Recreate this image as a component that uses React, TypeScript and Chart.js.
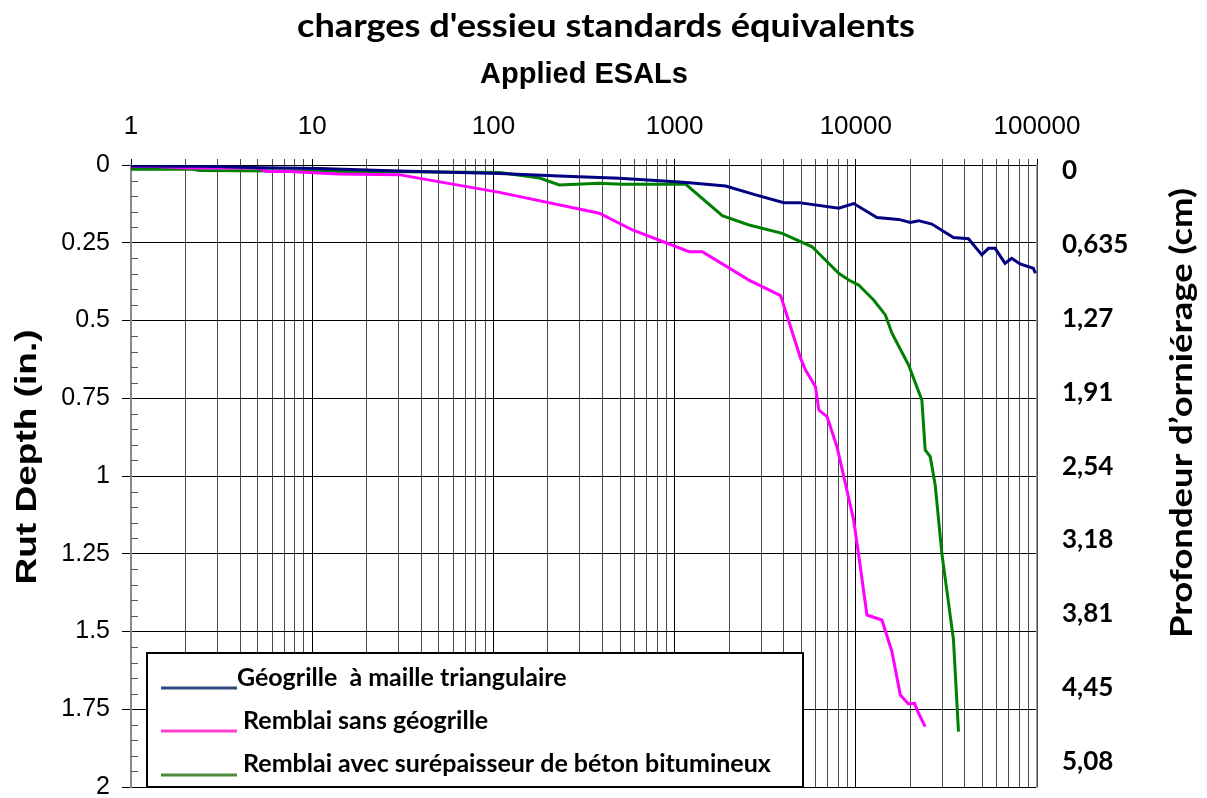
import React, { useEffect, useRef } from 'react';
import { Chart, registerables } from 'chart.js';

Chart.register(...registerables);

// ---------- texts ----------
const TITLE = "charges d'essieu standards équivalents";
const X_TITLE = 'Applied ESALs';
const Y_TITLE = 'Rut Depth (in.)';
const Y2_TITLE = 'Profondeur d’orniérage (cm)';
const seriesNames = [
  'Géogrille  à maille triangulaire',
  ' Remblai sans géogrille',
  ' Remblai avec surépaisseur de béton bitumineux',
];

// ---------- axes ----------
const xDecades = [1, 10, 100, 1000, 10000, 100000];
const yTicks = [0, 0.25, 0.5, 0.75, 1, 1.25, 1.5, 1.75, 2];
const yMinorStep = 0.05;
const cmTicks = [0, 0.635, 1.27, 1.905, 2.54, 3.175, 3.81, 4.445, 5.08];
const cmLabels = ['0', '0,635', '1,27', '1,91', '2,54', '3,18', '3,81', '4,45', '5,08'];
// the cm labels in the source sit on their own, slightly offset scale
const cmAxisMin = -0.05;
const cmAxisMax = 5.3;

// ---------- data (ESALs, rut depth in inches) ----------
const geoX = [1, 2.6, 5.2, 11, 30, 108, 231, 384, 495, 1016, 1202, 1914, 2800, 4010, 4850, 8050, 9730, 13090, 17230, 19990, 22190, 26290, 34600, 41860, 49600, 53960, 58720, 66650, 72500, 80600, 95400, 98000];
const geoY = [0.003, 0.004, 0.009, 0.011, 0.019, 0.027, 0.035, 0.040, 0.043, 0.054, 0.057, 0.0675, 0.096, 0.121, 0.121, 0.139, 0.124, 0.169, 0.175, 0.185, 0.179, 0.190, 0.233, 0.237, 0.289, 0.268, 0.268, 0.316, 0.300, 0.318, 0.332, 0.348];

const sansX = [1, 1.36, 2.1, 5, 5.6, 7.5, 14, 30, 108, 384, 586, 1202, 1423, 2572, 3846, 4960, 5280, 5990, 6250, 6940, 7870, 9730, 10590, 11520, 13940, 15830, 17610, 19550, 21090, 22190, 24150];
const sansY = [0.005, 0.005, 0.010, 0.010, 0.021, 0.021, 0.029, 0.031, 0.088, 0.155, 0.209, 0.279, 0.279, 0.370, 0.420, 0.622, 0.659, 0.713, 0.788, 0.809, 0.906, 1.141, 1.292, 1.447, 1.463, 1.565, 1.704, 1.733, 1.731, 1.763, 1.806];

const avecX = [1, 2.18, 2.41, 11, 30, 108, 180, 231, 384, 516, 1153, 1832, 2576, 3926, 5740, 8050, 9140, 10370, 12540, 14560, 15830, 19550, 23150, 24150, 25750, 27430, 29850, 34600, 36870];
const avecY = [0.014, 0.014, 0.018, 0.020, 0.022, 0.024, 0.042, 0.064, 0.059, 0.062, 0.062, 0.163, 0.193, 0.220, 0.263, 0.348, 0.370, 0.386, 0.434, 0.482, 0.541, 0.643, 0.756, 0.916, 0.938, 1.029, 1.249, 1.527, 1.822];

const lineColors = ['#000080', '#FF00FF', '#008000'];
const legendColors = ['#2B4A80', '#FF3FD0', '#4F8A3C'];

const ARIAL = "'Liberation Sans', Arial, sans-serif";
const CALIBRI = "Lato, 'Open Sans', sans-serif";

const zip = (xs: number[], ys: number[]) => xs.map((x, i) => ({ x, y: ys[i] }));
const isDecade = (v: number) => Math.abs(Math.log10(v) - Math.round(Math.log10(v))) < 1e-9;

function drawStretched(ctx: CanvasRenderingContext2D, text: string, x: number, y: number, font: string, rot: number, targetW: number) {
  ctx.save();
  ctx.font = font;
  ctx.fillStyle = '#000';
  ctx.textAlign = 'center';
  ctx.textBaseline = 'middle';
  ctx.translate(x, y);
  ctx.rotate(rot);
  const w = ctx.measureText(text).width;
  const s = targetW && w ? targetW / w : 1;
  ctx.scale(s, 1);
  ctx.fillText(text, 0, 0);
  ctx.restore();
}

const decorPlugin = {
  id: 'decor',
  afterDraw(chart: any) {
    const ctx: CanvasRenderingContext2D = chart.ctx;
    const ys = chart.scales.y;
    const area = chart.chartArea;
    // minor ticks on the left axis (inside)
    ctx.save();
    ctx.strokeStyle = '#555';
    ctx.lineWidth = 1;
    const n = Math.round((yTicks[yTicks.length - 1] - yTicks[0]) / yMinorStep);
    for (let i = 0; i <= n; i++) {
      const v = yTicks[0] + i * yMinorStep;
      if (Math.abs(v / 0.25 - Math.round(v / 0.25)) < 1e-6) continue;
      const py = Math.round(ys.getPixelForValue(v)) + 0.5;
      ctx.beginPath();
      ctx.moveTo(area.left, py);
      ctx.lineTo(area.left + 7, py);
      ctx.stroke();
    }
    ctx.restore();

    // titles
    drawStretched(ctx, TITLE, 606, 27, `bold 32px ${CALIBRI}`, 0, 618);
    drawStretched(ctx, Y_TITLE, 28, 457, `bold 30px ${ARIAL}`, -Math.PI / 2, 255);
    drawStretched(ctx, Y2_TITLE, 1182, 413, `bold 30px ${CALIBRI}`, -Math.PI / 2, 450);

    // legend box
    const lx = 147, ly = 653, lw = 656, lh = 134;
    ctx.save();
    ctx.fillStyle = '#fff';
    ctx.fillRect(lx, ly, lw, lh);
    ctx.strokeStyle = '#000';
    ctx.lineWidth = 2;
    ctx.strokeRect(lx, ly, lw, lh);
    const sampleY = [688, 731, 775];
    const textBase = [686, 729, 772];
    ctx.font = `bold 25px ${CALIBRI}`;
    ctx.textAlign = 'left';
    ctx.textBaseline = 'alphabetic';
    seriesNames.forEach((name, i) => {
      ctx.strokeStyle = legendColors[i];
      ctx.lineWidth = 3;
      ctx.beginPath();
      ctx.moveTo(161, sampleY[i]);
      ctx.lineTo(237, sampleY[i]);
      ctx.stroke();
      ctx.fillStyle = '#000';
      ctx.fillText(name, 237, textBase[i]);
    });
    ctx.restore();
  },
};

export default function App() {
  const ref = useRef<HTMLCanvasElement>(null);

  useEffect(() => {
    if (!ref.current) return;
    const xTickValues: number[] = [];
    for (let d = 0; d < xDecades.length - 1; d++) {
      for (let k = 1; k <= 9; k++) xTickValues.push(xDecades[d] * k);
    }
    xTickValues.push(xDecades[xDecades.length - 1]);

    const zeroPad = (s: any) => {
      s.paddingTop = 0;
      s.paddingBottom = 0;
      s.paddingLeft = 0;
      s.paddingRight = 0;
    };

    const chart = new Chart(ref.current, {
      type: 'line',
      data: {
        datasets: [
          { label: seriesNames[0], data: zip(geoX, geoY), borderColor: lineColors[0], backgroundColor: lineColors[0], borderWidth: 3, pointRadius: 0, tension: 0, yAxisID: 'y' },
          { label: seriesNames[1], data: zip(sansX, sansY), borderColor: lineColors[1], backgroundColor: lineColors[1], borderWidth: 3, pointRadius: 0, tension: 0, yAxisID: 'y' },
          { label: seriesNames[2], data: zip(avecX, avecY), borderColor: lineColors[2], backgroundColor: lineColors[2], borderWidth: 3, pointRadius: 0, tension: 0, yAxisID: 'y' },
        ],
      },
      options: {
        responsive: false,
        animation: false,
        devicePixelRatio: 1,
        layout: { padding: { top: 0, bottom: 11, left: 0, right: 0 } },
        plugins: {
          legend: { display: false },
          tooltip: { enabled: false },
          title: { display: false },
        },
        scales: {
          x: {
            type: 'logarithmic',
            position: 'top',
            min: 1,
            max: 100000,
            afterBuildTicks: (s: any) => {
              s.ticks = xTickValues.map((v) => ({ value: v, major: isDecade(v) }));
            },
            afterFit: (s: any) => {
              s.height = 165;
              zeroPad(s);
            },
            ticks: {
              autoSkip: false,
              maxRotation: 0,
              minRotation: 0,
              padding: 17,
              color: '#000',
              font: { family: ARIAL, size: 26 },
              callback: (v: any) => (isDecade(Number(v)) ? String(Math.round(Number(v))) : ''),
            },
            grid: {
              color: (c: any) => (c.tick && isDecade(c.tick.value) ? '#000' : '#4a4a4a'),
              lineWidth: 1,
              tickLength: 6,
              drawTicks: true,
            },
            border: { display: true, color: '#000', width: 1 },
            title: {
              display: true,
              text: X_TITLE,
              color: '#000',
              font: { family: ARIAL, size: 29, weight: 'bold' },
              padding: { top: 58, bottom: 0 },
            },
          },
          y: {
            type: 'linear',
            position: 'left',
            min: 0,
            max: 2,
            reverse: true,
            afterBuildTicks: (s: any) => {
              s.ticks = yTicks.map((v) => ({ value: v }));
            },
            afterFit: (s: any) => {
              s.width = 131;
              zeroPad(s);
            },
            ticks: {
              padding: 12,
              color: '#000',
              font: { family: ARIAL, size: 25 },
              callback: (v: any) => String(v),
            },
            grid: { color: '#000', lineWidth: 1, tickLength: 9, drawTicks: true },
            border: { display: true, color: '#888', width: 2 },
          },
          y2: {
            type: 'linear',
            position: 'right',
            min: cmAxisMin,
            max: cmAxisMax,
            reverse: true,
            afterBuildTicks: (s: any) => {
              s.ticks = cmTicks.map((v) => ({ value: v }));
            },
            afterFit: (s: any) => {
              s.width = 170;
              zeroPad(s);
            },
            ticks: {
              padding: 25,
              color: '#000',
              font: { family: CALIBRI, size: 26, weight: 'bold' },
              callback: (_v: any, i: number) => cmLabels[i],
            },
            grid: { drawOnChartArea: false, drawTicks: false },
            border: { display: true, color: '#999', width: 1.5 },
          },
        },
      },
      plugins: [decorPlugin],
    } as any);

    return () => chart.destroy();
  }, []);

  return (
    <div style={{ position: 'absolute', left: 0, top: 0, width: 1207, height: 798, background: '#fff' }}>
      <canvas ref={ref} width={1207} height={798} style={{ display: 'block', width: 1207, height: 798 }} />
    </div>
  );
}
